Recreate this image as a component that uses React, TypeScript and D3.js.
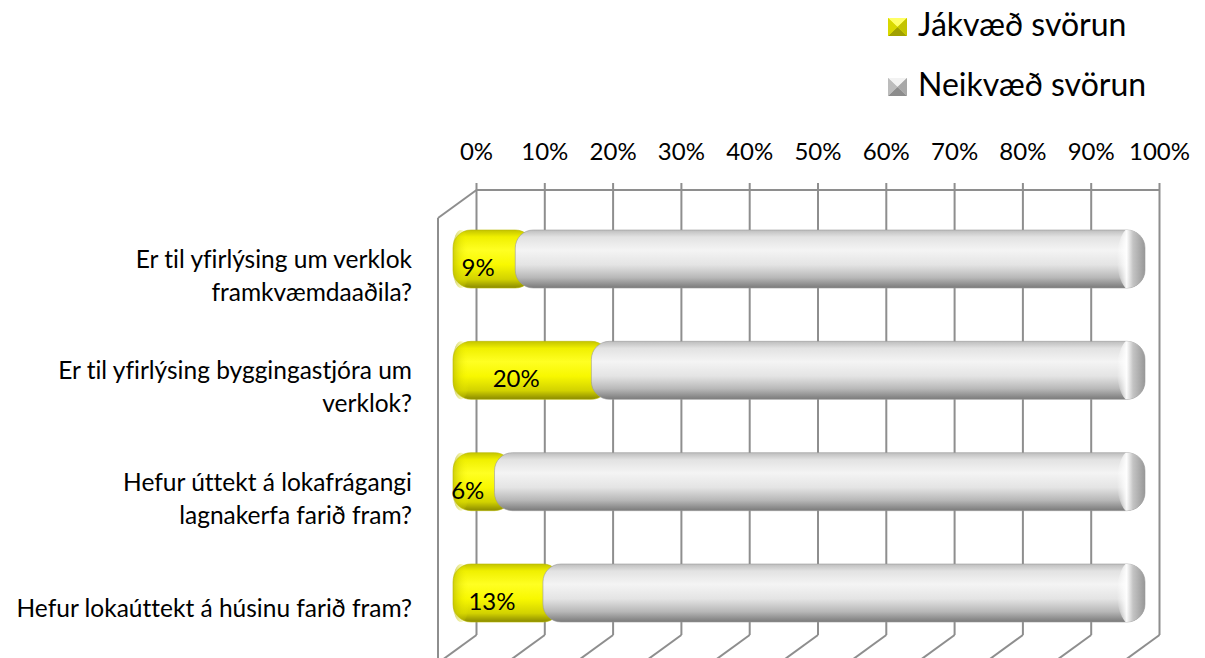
import React from "react";
import * as d3 from "d3";

const categories: string[][] = [
  ["Er til yfirlýsing um verklok", "framkvæmdaaðila?"],
  ["Er til yfirlýsing byggingastjóra um", "verklok?"],
  ["Hefur úttekt á lokafrágangi", "lagnakerfa farið fram?"],
  ["Hefur lokaúttekt á húsinu farið fram?"],
];
const positive = [0.09, 0.2, 0.06, 0.13];
const negative = [0.91, 0.8, 0.94, 0.87];
const valueLabels = ["9%", "20%", "6%", "13%"];
const tickValues = [0, 0.1, 0.2, 0.3, 0.4, 0.5, 0.6, 0.7, 0.8, 0.9, 1];
const tickLabels = ["0%", "10%", "20%", "30%", "40%", "50%", "60%", "70%", "80%", "90%", "100%"];
const seriesNames = ["Jákvæð svörun", "Neikvæð svörun"];

const W = 1205;
const H = 658;
const FONT = "Lato, 'Liberation Sans', sans-serif";
const noLig = { fontVariantLigatures: "none" as const };

export default function App() {
  const xBack = d3.scaleLinear().domain([0, 1]).range([476.5, 1159.5]);
  const xBar = d3.scaleLinear().domain([0, 1]).range([453, 1145]);
  const idx = categories.map((_, i) => i);
  const y = d3.scalePoint<number>().domain(idx).range([259, 593]);
  const backTop = 190;
  const backBottom = 635;
  const dx = -38.5;
  const dy = 28;
  const barH = 58;
  const rx = 18;
  const grid = "#8e8e8e";

  return (
    <svg width={W} height={H} style={{ position: "absolute", left: 0, top: 0, background: "#fff" }}>
      <defs>
        <linearGradient id="gy" x1="0" y1="0" x2="0" y2="1">
          <stop offset="0" stopColor="#c4c400" />
          <stop offset="0.12" stopColor="#f0f000" />
          <stop offset="0.35" stopColor="#ffff22" />
          <stop offset="0.6" stopColor="#f8f800" />
          <stop offset="0.85" stopColor="#d2d200" />
          <stop offset="1" stopColor="#8a8a00" />
        </linearGradient>
        <linearGradient id="gg" x1="0" y1="0" x2="0" y2="1">
          <stop offset="0" stopColor="#bdbdbd" />
          <stop offset="0.12" stopColor="#e2e2e2" />
          <stop offset="0.35" stopColor="#f4f4f4" />
          <stop offset="0.6" stopColor="#e4e4e4" />
          <stop offset="0.82" stopColor="#b8b8b8" />
          <stop offset="1" stopColor="#7a7a7a" />
        </linearGradient>
        <linearGradient id="gcap" x1="0" y1="0" x2="1" y2="0">
          <stop offset="0" stopColor="#ffffff" stopOpacity="0" />
          <stop offset="0.3" stopColor="#ffffff" stopOpacity="0.95" />
          <stop offset="0.5" stopColor="#c4c4c4" stopOpacity="1" />
          <stop offset="1" stopColor="#888888" stopOpacity="1" />
        </linearGradient>
        <linearGradient id="gycap" x1="0" y1="0" x2="1" y2="0">
          <stop offset="0" stopColor="#b0b000" stopOpacity="0.6" />
          <stop offset="1" stopColor="#ffff00" stopOpacity="0" />
        </linearGradient>
        {idx.map((i) => (
          <clipPath id={`cg${i}`} key={i}>
            <rect
              x={xBar(positive[i])}
              y={(y(i) as number) - barH / 2}
              width={xBar(1) - xBar(positive[i])}
              height={barH}
              rx={rx}
            />
          </clipPath>
        ))}
      </defs>

      {/* Legend */}
      {seriesNames.map((s, k) => (
        <g key={s} transform={`translate(888,${18 + k * 60})`}>
          <rect x={0} y={0} width={19} height={18} fill={k === 0 ? "#e8e800" : "#c8c8c8"} />
          <polygon points="0,0 19,0 9.5,9" fill={k === 0 ? "#ffff66" : "#f2f2f2"} />
          <polygon points="0,18 19,18 9.5,9" fill={k === 0 ? "#a0a000" : "#8c8c8c"} />
          <polygon points="0,0 0,18 9.5,9" fill={k === 0 ? "#d8d800" : "#bcbcbc"} />
          <polygon points="19,0 19,18 9.5,9" fill={k === 0 ? "#c4c400" : "#a8a8a8"} />
          <text x={30} y={18} fontFamily={FONT} fontSize={32} fill="#000" style={noLig}>
            {s}
          </text>
        </g>
      ))}

      {/* Tick labels */}
      {tickValues.map((t, k) => (
        <text
          key={t}
          x={xBack(t)}
          y={160}
          textAnchor="middle"
          fontFamily={FONT}
          fontSize={24}
          fill="#000"
        >
          {tickLabels[k]}
        </text>
      ))}

      {/* Walls and gridlines */}
      <g stroke={grid} strokeWidth={2} fill="none">
        <line x1={xBack(0)} y1={backTop} x2={xBack(1)} y2={backTop} />
        <line x1={xBack(0)} y1={backTop} x2={xBack(0) + dx} y2={backTop + dy} />
        <line x1={xBack(0) + dx} y1={backTop + dy} x2={xBack(0) + dx} y2={H + 10} />
        {tickValues.map((t) => (
          <g key={t}>
            <line x1={xBack(t)} y1={183} x2={xBack(t)} y2={backBottom} />
            <line x1={xBack(t)} y1={backBottom} x2={xBack(t) + dx} y2={backBottom + dy} />
          </g>
        ))}
      </g>

      {/* Bars */}
      {idx.map((i) => {
        const c = y(i) as number;
        const x0 = xBar(0);
        const xp = xBar(positive[i]);
        const x1 = xBar(positive[i] + negative[i]);
        return (
          <g key={i}>
            <rect x={x0} y={c - barH / 2} width={xp - x0 + rx} height={barH} rx={rx} fill="url(#gy)" stroke="#b8b800" strokeWidth={0.6} />
            <rect x={x0} y={c - barH / 2} width={16} height={barH} rx={rx} fill="url(#gycap)" />
            <rect x={xp} y={c - barH / 2} width={x1 - xp} height={barH} rx={rx} fill="url(#gg)" stroke="#9a9a9a" strokeWidth={0.6} />
            <g clipPath={`url(#cg${i})`}>
              <ellipse cx={x1 - 12} cy={c} rx={16} ry={barH / 2 + 4} fill="url(#gcap)" />
            </g>
            <text
              x={(x0 + xp) / 2 - 6}
              y={c + 17}
              textAnchor="middle"
              fontFamily={FONT}
              fontSize={24}
              fill="#000"
            >
              {valueLabels[i]}
            </text>
          </g>
        );
      })}

      {/* Category labels */}
      {categories.map((lines, i) => {
        const c = y(i) as number;
        const first = lines.length === 2 ? c + 9 : c + 24;
        return (
          <text key={i} textAnchor="end" fontFamily={FONT} fontSize={24.5} fill="#000" style={noLig}>
            {lines.map((l, k) => (
              <tspan key={k} x={412} y={first + k * 33}>
                {l}
              </tspan>
            ))}
          </text>
        );
      })}
    </svg>
  );
}
